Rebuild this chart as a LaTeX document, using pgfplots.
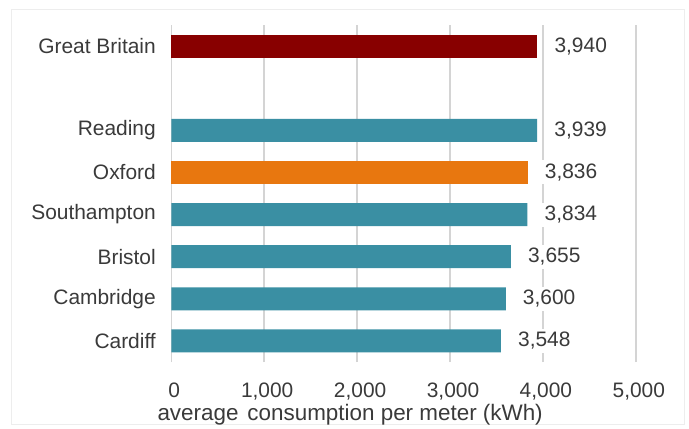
\documentclass[border=0pt]{standalone}
\usepackage{fontspec}
\setmainfont{Liberation Sans}
\usepackage{pgfplots}
\pgfplotsset{compat=1.18}

\definecolor{teal}{HTML}{3A8FA3}
\definecolor{oxorange}{HTML}{E8770F}
\definecolor{gbred}{HTML}{880000}
\definecolor{gridgrey}{HTML}{D4D4D4}
\definecolor{txt}{HTML}{3A3A3A}
\definecolor{framegrey}{HTML}{EDEDED}

% position 0 = Cardiff (bottom) ... 7 = Great Britain (top), 6 left empty
\begin{document}
\begin{tikzpicture}[x=1bp,y=1bp]
  \path[use as bounding box, fill=white] (0,0) rectangle (689,428);
  \draw[framegrey, line width=1bp] (11,4) rectangle (684,418);
  \begin{axis}[
    at={(171.3bp,66bp)}, anchor=south west,
    scale only axis, width=464.5bp, height=337bp,
    xbar, bar width=23bp, bar shift=0pt,
    xmin=0, xmax=5000, ymin=-0.5, ymax=7.5,
    xtick={0,1000,2000,3000,4000,5000},
    ytick={0,1,2,3,4,5,7},
    yticklabels={Cardiff,Cambridge,Bristol,Southampton,Oxford,Reading,Great Britain},
    axis line style={draw=none},
    major tick length=0pt,
    xmajorgrids, grid style={gridgrey, line width=1.5bp},
    ymajorgrids=false,
    font=\fontsize{21}{25}\selectfont,
    tick label style={txt},
    /pgf/number format/assume math mode=true,
    /pgf/number format/1000 sep={,},
    xticklabel style={anchor=base, yshift=-35bp, xshift=3bp},
    yticklabel style={xshift=-12bp},
    xlabel={average\hspace{9bp}consumption per meter (kWh)},
    xlabel style={txt, font=\fontsize{22.5}{26}\selectfont,
      at={(axis description cs:0.385,0)}, anchor=base, yshift=-58bp},
    nodes near coords,
    nodes near coords style={txt, anchor=west, fill=white, inner xsep=6bp, xshift=11bp,
      /pgf/number format/assume math mode=true, /pgf/number format/1000 sep={,}},
    clip=false,
  ]
    \addplot[fill=teal, draw=none] coordinates {
      (3548,0) (3600,1) (3655,2) (3834,3) (3939,5)};
    \addplot[fill=oxorange, draw=none] coordinates {(3836,4)};
    \addplot[fill=gbred, draw=none] coordinates {(3940,7)};
  \end{axis}
\end{tikzpicture}
\end{document}
